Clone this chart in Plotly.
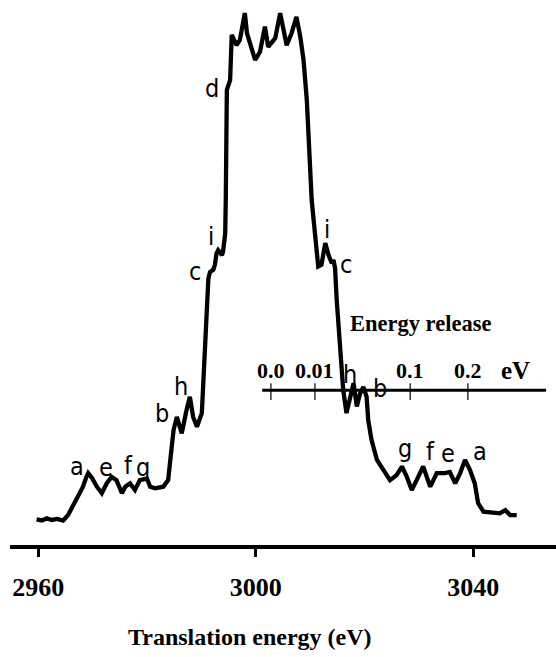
import numpy as np
import plotly.graph_objects as go

# Translation-energy spectrum (eV) and intensity (arb. units)
energy = [
    2959.7, 2960.7, 2961.6, 2962.5, 2963.5, 2964.6, 2965.5, 2966.4, 2967.3, 2968.2,
    2968.8, 2969.2, 2969.9, 2970.8, 2971.7, 2972.6, 2973.5, 2974.4, 2975.4, 2976.0,
    2976.9, 2977.8, 2978.7, 2980.0, 2980.6, 2981.5, 2983.0, 2983.9, 2984.4, 2984.9,
    2985.5, 2986.4, 2987.3, 2987.9, 2988.5, 2989.2, 2990.1, 2990.7, 2991.3, 2991.6,
    2992.2, 2992.5, 2992.8, 2993.1, 2993.8, 2994.0, 2994.4, 2994.5, 2994.7, 2995.3,
    2995.4, 2995.6, 2996.5, 2997.1, 2998.0, 2998.4, 2999.9, 3000.8, 3001.7, 3002.3,
    3003.6, 3004.5, 3005.7, 3006.6, 3007.5, 3008.2, 3008.8, 3009.4, 3010.3, 3011.2,
    3011.5, 3012.1, 3012.8, 3013.4, 3014.0, 3014.3, 3014.6, 3014.9, 3015.5, 3016.1,
    3016.7, 3017.3, 3018.0, 3018.6, 3019.2, 3019.8, 3020.4, 3020.7, 3021.3, 3022.3,
    3023.5, 3024.7, 3025.9, 3026.9, 3027.8, 3028.7, 3029.6, 3030.8, 3032.1, 3033.3,
    3034.8, 3035.7, 3036.7, 3037.6, 3038.5, 3039.4, 3040.3, 3040.9, 3041.9, 3043.7,
    3044.9, 3045.9, 3046.8, 3048.0,
]
intensity = [
    4.7, 4.5, 4.9, 4.6, 4.8, 4.5, 5.5, 7.3, 8.8, 10.6,
    12.3, 13.2, 12.3, 10.7, 9.5, 11.3, 12.5, 11.9, 9.5, 10.7,
    11.3, 10.1, 11.9, 12.2, 10.7, 10.4, 10.7, 11.9, 16.5, 21.1,
    23.5, 20.5, 24.8, 27.2, 23.5, 21.7, 24.2, 37.6, 48.9, 50.1,
    50.5, 51.4, 53.5, 54.1, 53.2, 53.8, 57.2, 63.3, 83.5, 85.3,
    93.3, 93.6, 91.7, 92.7, 97.6, 93.9, 89.0, 90.5, 95.1, 91.4,
    93.0, 97.6, 91.7, 93.9, 96.9, 93.3, 89.0, 81.7, 63.3, 54.1,
    51.1, 51.4, 55.4, 53.2, 51.7, 52.3, 50.8, 45.0, 35.8, 28.4,
    24.2, 27.2, 29.7, 25.4, 27.8, 29.0, 27.2, 22.9, 19.3, 15.6,
    13.8, 11.9, 12.8, 14.4, 12.5, 10.1, 11.9, 14.4, 10.7, 13.2,
    13.2, 13.4, 11.3, 13.2, 15.6, 13.8, 11.3, 7.7, 6.1, 5.8,
    5.8, 6.4, 5.5, 5.5,
]

# Peak assignments: letter, energy, height of the label
peak_letters = ["a", "e", "f", "g", "b", "h", "c", "i", "d",
                "i", "c", "h", "b", "g", "f", "e", "a"]
peak_energy = [2967.1, 2972.5, 2976.6, 2979.3, 2982.7, 2986.2, 2988.8, 2991.7, 2991.9,
               3013.1, 3016.7, 3017.3, 3022.9, 3027.5, 3032.1, 3035.4, 3041.3]
peak_height = [14.4, 14.3, 14.5, 14.3, 24.2, 29.0, 50.1, 56.6, 83.8,
               57.8, 51.4, 31.2, 28.8, 17.7, 17.1, 16.8, 17.1]

# Energy-release scale: translation energy offset grows as sqrt(release)
release_ticks = [0.0, 0.01, 0.1, 0.2]
release_labels = ["0.0", "0.01", "0.1", "0.2"]
release_origin = 3002.8
release_gain = 81.0

x_ticks = [2960, 3000, 3040]

SERIF = "Liberation Serif, Times New Roman, serif"
SANS = "DejaVu Sans Condensed, DejaVu Sans, sans-serif"

fig = go.Figure()
fig.add_trace(go.Scatter(
    x=energy, y=intensity, mode="lines",
    line=dict(color="black", width=4.3), hoverinfo="skip", showlegend=False,
))

annotations = []
for letter, xe, yh in zip(peak_letters, peak_energy, peak_height):
    annotations.append(dict(
        x=xe, y=yh, xref="x", yref="y", text=letter, showarrow=False,
        font=dict(family=SANS, size=25, color="black"),
        xanchor="center", yanchor="middle",
    ))

# Energy-release inset scale
inset_y = 28.4
shapes = [dict(type="line", xref="x", yref="y", x0=3001.2, x1=3053.4,
               y0=inset_y, y1=inset_y, line=dict(color="black", width=3))]
for val, lab in zip(release_ticks, release_labels):
    xp = release_origin + release_gain * np.sqrt(val)
    shapes.append(dict(type="line", xref="x", yref="y", x0=xp, x1=xp,
                       y0=inset_y - 1.8, y1=inset_y + 1.3,
                       line=dict(color="black", width=1.2)))
    annotations.append(dict(
        x=xp, y=inset_y + 3.7, xref="x", yref="y", text=lab, showarrow=False,
        font=dict(family=SERIF, size=22, color="black", weight="bold"),
        xanchor="center", yanchor="middle",
    ))
annotations.append(dict(
    x=3047.7, y=inset_y + 3.7, xref="x", yref="y", text="eV", showarrow=False,
    font=dict(family=SERIF, size=25, color="black", weight="bold"),
    xanchor="center", yanchor="middle",
))
annotations.append(dict(
    x=3030.4, y=40.6, xref="x", yref="y", text="Energy release", showarrow=False,
    font=dict(family=SERIF, size=22.5, color="black", weight="bold"),
    xanchor="center", yanchor="middle",
))

# Axis title
annotations.append(dict(
    x=2999.0, y=-0.168, xref="x", yref="paper", text="Translation energy (eV)",
    showarrow=False, font=dict(family=SERIF, size=24, color="black", weight="bold"),
    xanchor="center", yanchor="middle",
))

fig.update_layout(
    width=556, height=657,
    margin=dict(l=10, r=0, t=0, b=112),
    paper_bgcolor="white", plot_bgcolor="white",
    shapes=shapes, annotations=annotations,
    xaxis=dict(
        range=[2954.82, 3055.23], tickvals=x_ticks,
        ticktext=[str(v) for v in x_ticks],
        showline=True, linecolor="black", linewidth=4,
        ticks="outside", ticklen=8, tickwidth=2.5, tickcolor="black",
        showgrid=False, zeroline=False, ticklabelstandoff=8,
        tickfont=dict(family=SERIF, size=26, color="black", weight="bold"),
    ),
    yaxis=dict(range=[0, 100], visible=False, showgrid=False, zeroline=False),
)

fig.write_html("out.html")
